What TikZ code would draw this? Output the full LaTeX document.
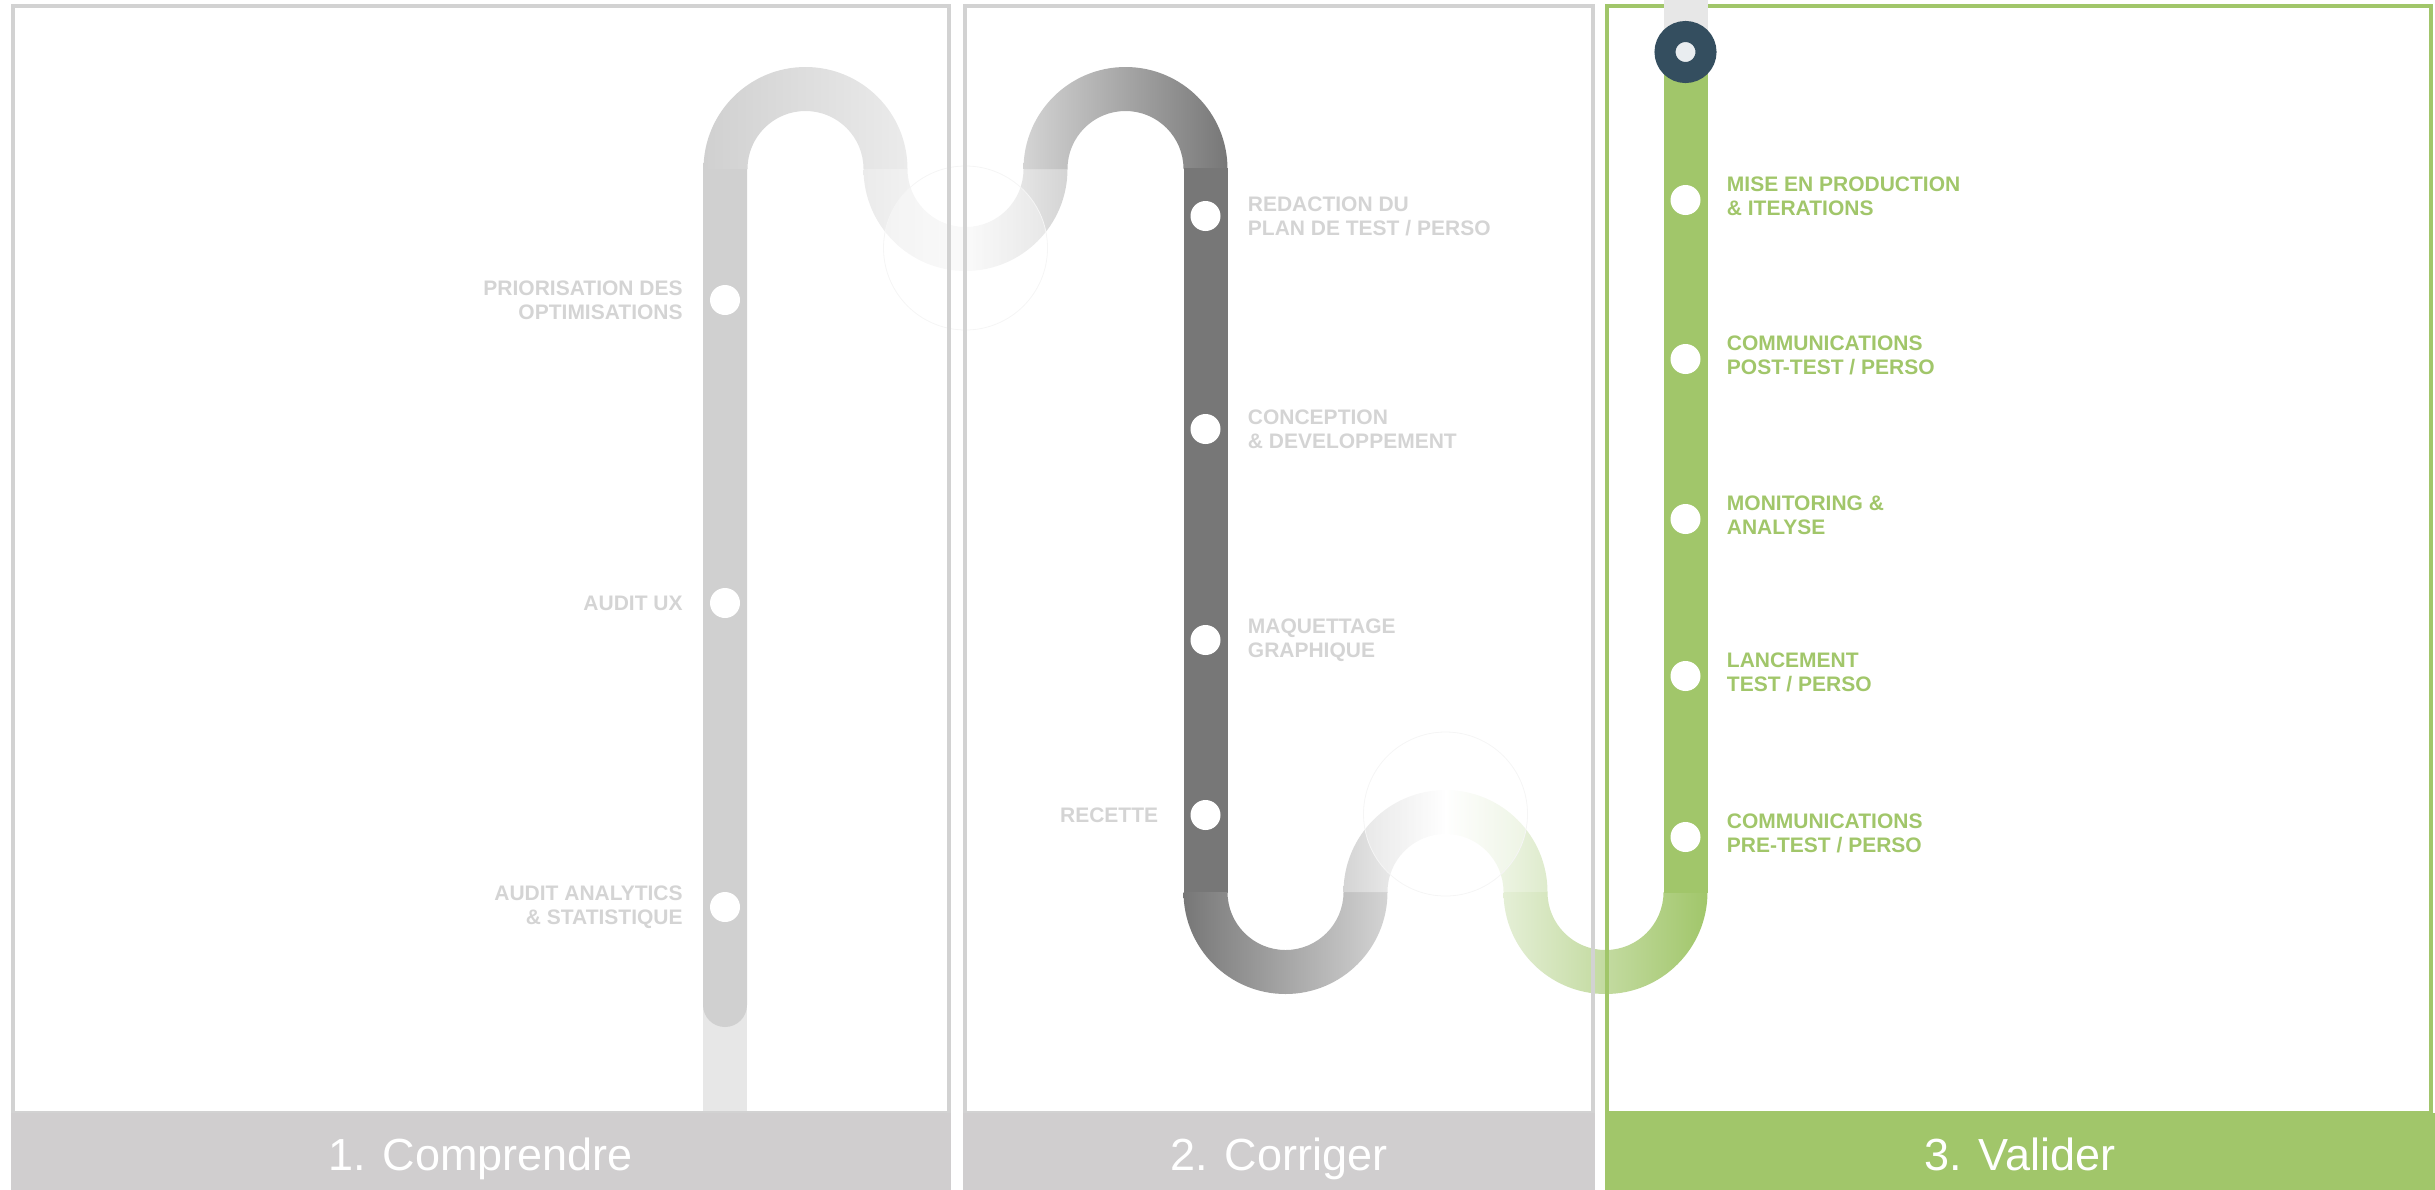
\documentclass[tikz,border=0pt]{standalone}
\usepackage{fontspec}
\setmainfont{Liberation Sans}
\usepackage{tikz}
\usetikzlibrary{positioning}
\definecolor{trackgrey}{RGB}{208,208,208}
\definecolor{striplight}{RGB}{231,231,231}
\definecolor{fadegrey}{RGB}{235,235,235}
\definecolor{paleend}{RGB}{248,248,248}
\definecolor{midgrey}{RGB}{212,212,212}
\definecolor{trackdark}{RGB}{119,119,119}
\definecolor{trackgreen}{RGB}{161,198,106}
\definecolor{palegreen}{RGB}{222,235,204}
\definecolor{panelgrey}{RGB}{210,210,210}
\definecolor{tabgreybg}{RGB}{208,206,207}
\definecolor{labelgrey}{RGB}{212,212,212}
\definecolor{startnavy}{RGB}{52,78,95}
\definecolor{startcore}{RGB}{233,237,240}
\newcommand{\labelfont}{\fontsize{21}{24}\selectfont\bfseries}
\newcommand{\tabfont}{\fontsize{45}{50}\selectfont}
% half rings of the track: centre x, centre y, shading
\newcommand{\pipeup}[3]{%
  \shade[#3] ({#1-102},#2) arc (180:0:102pt) -- ({#1+58},#2)
    arc (0:180:58pt) -- cycle;}
\newcommand{\pipedown}[3]{%
  \shade[#3] ({#1-102},#2) arc (180:360:102pt) -- ({#1+58},#2)
    arc (360:180:58pt) -- cycle;}
\tikzset{
  panel/.style={draw=panelgrey, line width=4pt},
  greenpanel/.style={draw=trackgreen, line width=4pt},
  ghost/.style={draw=black!4, line width=0.8pt, fill=white, fill opacity=0.35},
  waypoint/.style={circle, fill=white, minimum size=30pt, inner sep=0pt},
  startdot/.style={circle, draw=startnavy, line width=21pt, fill=startcore,
    minimum size=41pt, inner sep=0pt},
  greylabel/.style={text=labelgrey, font=\labelfont, inner sep=0pt},
  greenlabel/.style={text=trackgreen, font=\labelfont, inner sep=0pt,
    align=left, yshift=4pt},
  tab/.style={minimum height=81pt, inner sep=0pt, text=white,
    text height=33pt, text depth=0pt, font=\tabfont},
  tabgrey/.style={tab, fill=tabgreybg},
  tabgreen/.style={tab, fill=trackgreen}
}

\begin{document}
\begin{tikzpicture}[x=1pt, y=-1pt]
  \useasboundingbox (0,0) rectangle (2435,1189);
  % track, column 1
  \fill[striplight] (703,960) rectangle (747,1113);
  \fill[trackgrey] (703,168) -- (703,1005) arc (180:360:22pt) -- (747,168) -- cycle;
  \pipeup{805.5}{169}{left color=trackgrey, right color=fadegrey}
  \pipedown{965.5}{169}{left color=fadegrey, right color=midgrey, middle color=paleend}
  \pipeup{1125.5}{169}{left color=midgrey, right color=trackdark}
  % track, column 2
  \fill[trackdark] (1183.5,168) rectangle (1227.5,893);
  \pipedown{1285.5}{892}{left color=trackdark, right color=midgrey}
  \pipeup{1445.5}{892}{left color=midgrey, right color=palegreen, middle color=white}
  \pipedown{1605.5}{892}{left color=palegreen!80!white, right color=trackgreen}
  % track, column 3
  \fill[trackgreen] (1663.5,60) rectangle (1707.5,893);
  \filldraw[ghost] (965.5,248) circle (82pt);
  \filldraw[ghost] (1445.5,814) circle (82pt);
  % panels
  \draw[panel] (12.5,5.7) rectangle (948.7,1113);
  \draw[panel] (964.7,5.7) rectangle (1592.7,1113);
  \draw[greenpanel] (1607,5.7) rectangle (2431,1113);
  \fill[striplight] (1663.5,0) rectangle (1707.5,60);
  \node[startdot] (start) at (1685.5,52) {};
  % stops, column 1
  \node[waypoint] (prio) at (725,300) {};
  \node[waypoint] (ux) at (725,603) {};
  \node[waypoint] (stats) at (725,907) {};
  \node[greylabel, align=right, left=27pt of prio] (prioL)
    {PRIORISATION DES\\OPTIMISATIONS};
  \node[greylabel, left=27pt of ux] (uxL) {AUDIT UX};
  \node[greylabel, align=right, left=27pt of stats] (statsL)
    {AUDIT ANALYTICS\\\& STATISTIQUE};
  % stops, column 2
  \node[waypoint] (plan) at (1205.5,216) {};
  \node[waypoint] (dev) at (1205.5,429) {};
  \node[waypoint] (maq) at (1205.5,640) {};
  \node[waypoint] (rec) at (1205.5,815) {};
  \node[greylabel, align=left, right=27pt of plan] (planL)
    {REDACTION DU\\PLAN DE TEST / PERSO};
  \node[greylabel, align=left, right=27pt of dev] (devL)
    {CONCEPTION\\\& DEVELOPPEMENT};
  \node[greylabel, align=left, right=27pt of maq] (maqL)
    {MAQUETTAGE\\GRAPHIQUE};
  \node[greylabel, left=32pt of rec] (recL) {RECETTE};
  % stops, column 3
  \node[waypoint] (prod) at (1685.5,200) {};
  \node[waypoint] (post) at (1685.5,359) {};
  \node[waypoint] (mon) at (1685.5,519) {};
  \node[waypoint] (launch) at (1685.5,676) {};
  \node[waypoint] (pre) at (1685.5,837) {};
  \node[greenlabel, right=26pt of prod] (prodL)
    {MISE EN PRODUCTION\\\& ITERATIONS};
  \node[greenlabel, right=26pt of post] (postL)
    {COMMUNICATIONS\\POST-TEST / PERSO};
  \node[greenlabel, right=26pt of mon] (monL) {MONITORING \&\\ANALYSE};
  \node[greenlabel, right=26pt of launch] (launchL)
    {LANCEMENT\\TEST / PERSO};
  \node[greenlabel, right=26pt of pre] (preL)
    {COMMUNICATIONS\\PRE-TEST / PERSO};
  % footers
  \node[tabgrey, minimum width=940pt] (tab1) at (480.6,1153.5) {1. Comprendre};
  \node[tabgrey, minimum width=632pt] (tab2) at (1278.7,1153.5) {2. Corriger};
  \node[tabgreen, minimum width=830pt] (tab3) at (2020,1153.5) {3. Valider};
\end{tikzpicture}
\end{document}
